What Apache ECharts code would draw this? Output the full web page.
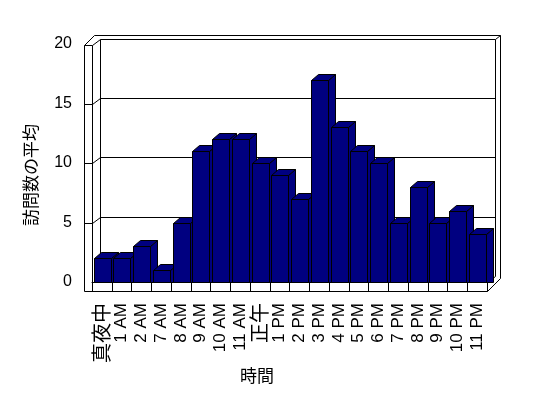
<!DOCTYPE html>
<html><head><meta charset="utf-8">
<script src="https://cdn.jsdelivr.net/npm/echarts@6/dist/echarts.min.js"></script>
<style>html,body{margin:0;padding:0;background:#fff}#c{width:548px;height:398px}</style>
</head><body><div id="c"></div>
<script>
const categories = ['真夜中','1 AM','2 AM','7 AM','8 AM','9 AM','10 AM','11 AM','正午','1 PM','2 PM','3 PM','4 PM','5 PM','6 PM','7 PM','8 PM','9 PM','10 PM','11 PM'];
const visits = [2,2,3,1,5,11,12,12,10,9,7,17,13,11,10,5,8,5,6,4];
const yMin = 0, yMax = 20, yStep = 5;
const yName = '訪問数の平均';
const xName = '時間';

const FONT = '"Liberation Sans", "Noto Sans CJK JP", sans-serif';
const NAVY = '#000080';
const DX = 7, DY = -6;

const chart = echarts.init(document.getElementById('c'), null, {renderer: 'canvas'});

function renderBar(params, api) {
  const i = api.value(0), v = api.value(1);
  const p0 = api.coord([i, 0]);
  const p1 = api.coord([i, v]);
  const band = api.size([1, 0])[0];
  const x = Math.round(p0[0] - band / 2 + 1.5) + 0.5;
  const w = Math.round(band * 0.845);
  const yb = Math.round(p0[1]) + 0.5;
  const yt = Math.round(p1[1]) + 0.5;
  const st = {fill: NAVY, stroke: '#000', lineWidth: 1};
  return {
    type: 'group',
    children: [
      {type: 'polygon', shape: {points: [[x + w, yt], [x + w + DX, yt + DY], [x + w + DX, yb], [x + w, yb]]}, style: st},
      {type: 'polygon', shape: {points: [[x, yt], [x + w, yt], [x + w + DX, yt + DY], [x + DX, yt + DY]]}, style: st},
      {type: 'rect', shape: {x: x, y: yt, width: w, height: yb - yt}, style: st}
    ]
  };
}

chart.setOption({
  animation: false,
  backgroundColor: '#fff',
  textStyle: {fontFamily: FONT, color: '#000'},
  grid: {left: 92, right: 61, top: 44, bottom: 116, containLabel: false},
  xAxis: {
    type: 'category',
    data: categories,
    axisLine: {show: true, lineStyle: {color: '#000', width: 1}},
    axisTick: {show: true, length: 9, lineStyle: {color: '#000'}},
    axisLabel: {
      rotate: 90, margin: 21, fontSize: 17, color: '#000', fontFamily: FONT, interval: 0,
      formatter: v => /[\u3000-\u9fff]/.test(v) ? '{c|' + v + '}' : v,
      rich: {c: {fontSize: 20, fontFamily: '"Noto Sans CJK JP", sans-serif', color: '#000'}}
    },
    splitLine: {show: false}
  },
  yAxis: {
    type: 'value', min: yMin, max: yMax, interval: yStep,
    axisLine: {show: false}, axisTick: {show: false},
    axisLabel: {margin: 20, fontSize: 16, color: '#000', fontFamily: FONT},
    splitLine: {show: false}
  },
  series: [{
    type: 'custom',
    renderItem: renderBar,
    data: visits.map((v, i) => [i, v]),
    encode: {x: 0, y: 1},
    clip: false,
    z: 5
  }]
});

// Frame (walls & floor) derived from grid coordinates
const toY = v => chart.convertToPixel({yAxisIndex: 0}, v);
const toX = i => chart.convertToPixel({xAxisIndex: 0}, i);
const band = toX(1) - toX(0);
const gL = toX(0) - band / 2, gR = toX(categories.length - 1) + band / 2;
const y0 = Math.round(toY(yMin)), yTop = Math.round(toY(yMax));
const il = Math.round(gL) + 0.5;
const fl = il - 8, bl = il + 8;
const br = Math.round(gR) + 8.5, orr = Math.round(gR) + 13.5;
const fr = Math.round(gR) + 0.5;
const floorB = y0 + 9.5;
const els = [];
function L(x1, y1, x2, y2) {
  els.push({type: 'line', z: 1, shape: {x1, y1, x2, y2}, style: {stroke: '#000', lineWidth: 1}});
}
const tf = yTop + 1.5;
L(fl, tf, fl, floorB);
L(il, tf, il, y0 + 0.5);
L(fl, tf, il, tf);
L(fl, tf, fl + 10, tf - 10);
L(il, tf, bl, tf - 6);
L(fl + 10, tf - 10, orr, tf - 10);
L(bl, tf - 6, br, tf - 6);
L(bl, tf - 6, bl, y0 - 5.5);
L(br, tf - 6, br, y0 - 5.5);
L(br, tf - 6, orr, tf - 10);
L(orr, tf - 10, orr, y0 - 3.5);
L(fl, floorB, fr, floorB);
L(fr, y0 + 0.5, fr, floorB);
L(fr, floorB, orr, y0 - 3.5);
L(fr, y0 + 0.5, br, y0 - 5.5);
for (let v = yMin + yStep; v < yMax; v += yStep) {
  const yf = Math.round(toY(v)) + 0.5;
  L(fl, yf, il, yf);
  L(il, yf, bl, yf - 6);
  L(bl, yf - 6, br, yf - 6);
}
els.push({type: 'text', z: 1, x: 32, y: 175, rotation: Math.PI / 2,
  style: {text: yName, fontSize: 17, fontFamily: FONT, fill: '#000', align: 'center', verticalAlign: 'middle'}});
els.push({type: 'text', z: 1, x: 257, y: 377,
  style: {text: xName, fontSize: 17, fontFamily: FONT, fill: '#000', align: 'center', verticalAlign: 'middle'}});
chart.setOption({graphic: {elements: els}});
</script>
</body></html>
